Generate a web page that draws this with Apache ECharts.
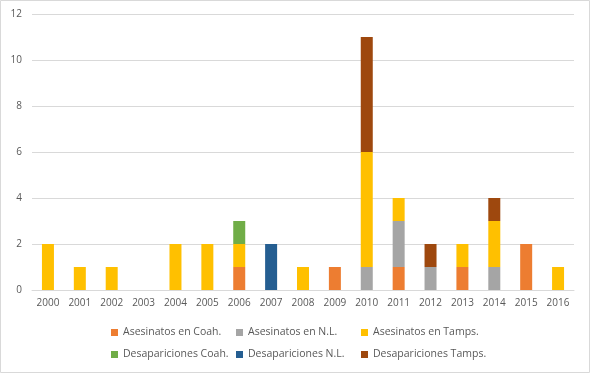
<!DOCTYPE html>
<html><head><meta charset="utf-8">
<script src="https://cdn.jsdelivr.net/npm/echarts@6/dist/echarts.min.js"></script>
<style>html,body{margin:0;padding:0;background:#fff}#c{width:590px;height:373px}</style>
</head><body><div id="c"></div>
<script>
var years = ['2000','2001','2002','2003','2004','2005','2006','2007','2008','2009','2010','2011','2012','2013','2014','2015','2016'];
var asesCoah  = [0,0,0,0,0,0,1,0,0,1,0,1,0,1,0,2,0];
var asesNL    = [0,0,0,0,0,0,0,0,0,0,1,2,1,0,1,0,0];
var asesTamps = [2,1,1,0,2,2,1,0,1,0,5,1,0,1,2,0,1];
var desCoah   = [0,0,0,0,0,0,1,0,0,0,0,0,0,0,0,0,0];
var desNL     = [0,0,0,0,0,0,0,2,0,0,0,0,0,0,0,0,0];
var desTamps  = [0,0,0,0,0,0,0,0,0,0,5,0,1,0,1,0,0];
var names = ['Asesinatos en Coah.','Asesinatos en N.L.','Asesinatos en Tamps.','Desapariciones Coah.','Desapariciones N.L.','Desapariciones Tamps.'];
var colors = ['#ED7D31','#A5A5A5','#FFC000','#70AD47','#255E91','#9E480E'];
var datas = [asesCoah, asesNL, asesTamps, desCoah, desNL, desTamps];

var chart = echarts.init(document.getElementById('c'), null, {renderer:'canvas'});
var font = 'Open Sans';
var txt = {color:'#595959', fontSize:10, fontFamily:font};
var ltxt = {color:'#595959', fontSize:10.5, fontFamily:font};
var series = names.map(function(n,i){
  return {name:n, type:'bar', stack:'a', barWidth:12, itemStyle:{color:colors[i]},
    data: datas[i].map(function(v){return v===0?null:v;})};
});
function leg(items, left){
  return {data:items, orient:'vertical', left:left, top:327, itemWidth:7, itemHeight:7, itemGap:11,
    icon:'rect', textStyle:ltxt, padding:0, selectedMode:false};
}
chart.setOption({
  animation:false,
  color:colors,
  graphic:[{type:'rect', shape:{x:0.5,y:0.5,width:589,height:372}, style:{fill:null, stroke:'#D9D9D9', lineWidth:1}, silent:true}],
  grid:{left:32, right:16, top:14, bottom:83},
  legend:[leg([names[0],names[3]],111), leg([names[1],names[4]],236), leg([names[2],names[5]],361)],
  xAxis:{type:'category', data:years, axisTick:{show:false}, axisLine:{lineStyle:{color:'#D9D9D9'}},
    axisLabel:Object.assign({margin:8}, txt)},
  yAxis:{type:'value', min:0, max:12, interval:2, axisLine:{show:false}, axisTick:{show:false},
    splitLine:{lineStyle:{color:'#D9D9D9'}}, axisLabel:Object.assign({margin:10}, txt)},
  series:series
});
</script></body></html>
